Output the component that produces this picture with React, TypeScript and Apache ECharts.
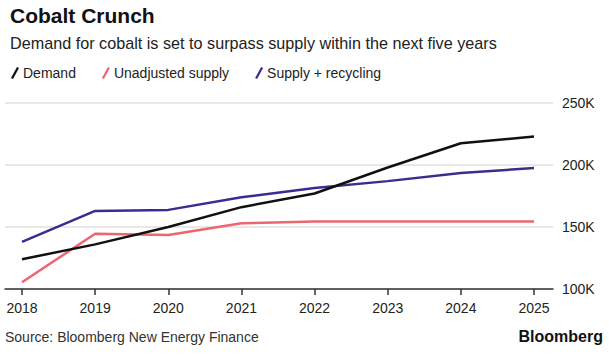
import React, { useEffect, useRef } from "react";
import * as echarts from "echarts";

const years = ["2018", "2019", "2020", "2021", "2022", "2023", "2024", "2025"];
const demand = [124000, 136000, 150000, 166000, 177000, 198000, 217500, 223000];
const unadjustedSupply = [105500, 144500, 143500, 153000, 154500, 154500, 154500, 154500];
const supplyRecycling = [138000, 163000, 163800, 174000, 181500, 187000, 193500, 197500];
const yTicks = { min: 100000, max: 250000, interval: 50000 };

const FONT = "'Liberation Sans', Arial, sans-serif";
const slash = "path://M6,0 L8,1 L2,12 L0,11 Z";

export default function App() {
  const ref = useRef<HTMLDivElement>(null);
  useEffect(() => {
    if (!ref.current) return;
    const chart = echarts.init(ref.current, null, { renderer: "svg" });
    chart.setOption({
      animation: false,
      backgroundColor: "#fff",
      textStyle: { fontFamily: FONT },
      title: [
        {
          text: "Cobalt Crunch",
          left: 5,
          top: 0,
          textStyle: { fontFamily: FONT, fontSize: 21, fontWeight: "bold", color: "#111" },
        },
        {
          text: "Demand for cobalt is set to surpass supply within the next five years",
          left: 5,
          top: 30,
          textStyle: { fontFamily: FONT, fontSize: 16.2, fontWeight: "normal", color: "#222" },
        },
      ],
      legend: {
        left: 6,
        top: 61,
        itemWidth: 8,
        itemHeight: 12,
        itemGap: 26,
        icon: slash,
        textStyle: { fontFamily: FONT, fontSize: 14, color: "#222", padding: [0, 0, 0, -1] },
        data: ["Demand", "Unadjusted supply", "Supply + recycling"],
      },
      grid: [
        { left: 5, right: 56, top: 103, bottom: 66 },
        { left: 22, right: 75, top: 103, bottom: 66 },
      ],
      xAxis: [
        {
          gridIndex: 0,
          type: "value",
          min: 0,
          max: 1,
          axisLine: { show: true, lineStyle: { color: "#333", width: 1.5 } },
          axisTick: { show: false },
          axisLabel: { show: false },
          splitLine: { show: false },
        },
        {
          gridIndex: 1,
          type: "category",
          data: years,
          boundaryGap: false,
          axisLine: { show: false },
          axisTick: { show: true, length: 6, interval: 0, lineStyle: { color: "#333", width: 1.5 } },
          axisLabel: { fontFamily: FONT, fontSize: 14, color: "#222", margin: 12, interval: 0 },
          splitLine: { show: false },
        },
      ],
      yAxis: [
        {
          gridIndex: 0,
          type: "value",
          position: "right",
          min: yTicks.min,
          max: yTicks.max,
          interval: yTicks.interval,
          axisLine: { show: false },
          axisTick: { show: false },
          axisLabel: {
            fontFamily: FONT,
            fontSize: 14,
            color: "#222",
            margin: 9,
            formatter: (v: number) => v / 1000 + "K",
          },
          splitLine: { show: true, lineStyle: { color: "#e0e0e0", width: 1.5 } },
        },
        {
          gridIndex: 1,
          type: "value",
          min: yTicks.min,
          max: yTicks.max,
          interval: yTicks.interval,
          show: false,
        },
      ],
      series: [
        {
          name: "Demand",
          type: "line",
          xAxisIndex: 1,
          yAxisIndex: 1,
          data: demand,
          symbol: "none",
          color: "#111111",
          lineStyle: { width: 2.5, color: "#111111" },
          z: 5,
        },
        {
          name: "Unadjusted supply",
          type: "line",
          xAxisIndex: 1,
          yAxisIndex: 1,
          data: unadjustedSupply,
          symbol: "none",
          color: "#ec6670",
          lineStyle: { width: 2.5, color: "#ec6670" },
          z: 3,
        },
        {
          name: "Supply + recycling",
          type: "line",
          xAxisIndex: 1,
          yAxisIndex: 1,
          data: supplyRecycling,
          symbol: "none",
          color: "#3d2c8d",
          lineStyle: { width: 2.5, color: "#3d2c8d" },
          z: 4,
        },
      ],
      graphic: [
        {
          type: "text",
          left: 5,
          top: 330,
          style: { text: "Source: Bloomberg New Energy Finance", fontFamily: FONT, fontSize: 14, fill: "#333" },
        },
        {
          type: "text",
          right: 6,
          top: 328,
          style: { text: "Bloomberg", fontFamily: FONT, fontSize: 16, fontWeight: "bold", fill: "#111" },
        },
      ],
    });
    return () => chart.dispose();
  }, []);
  return <div ref={ref} style={{ position: "fixed", left: 0, top: 0, width: 609, height: 355 }} />;
}
